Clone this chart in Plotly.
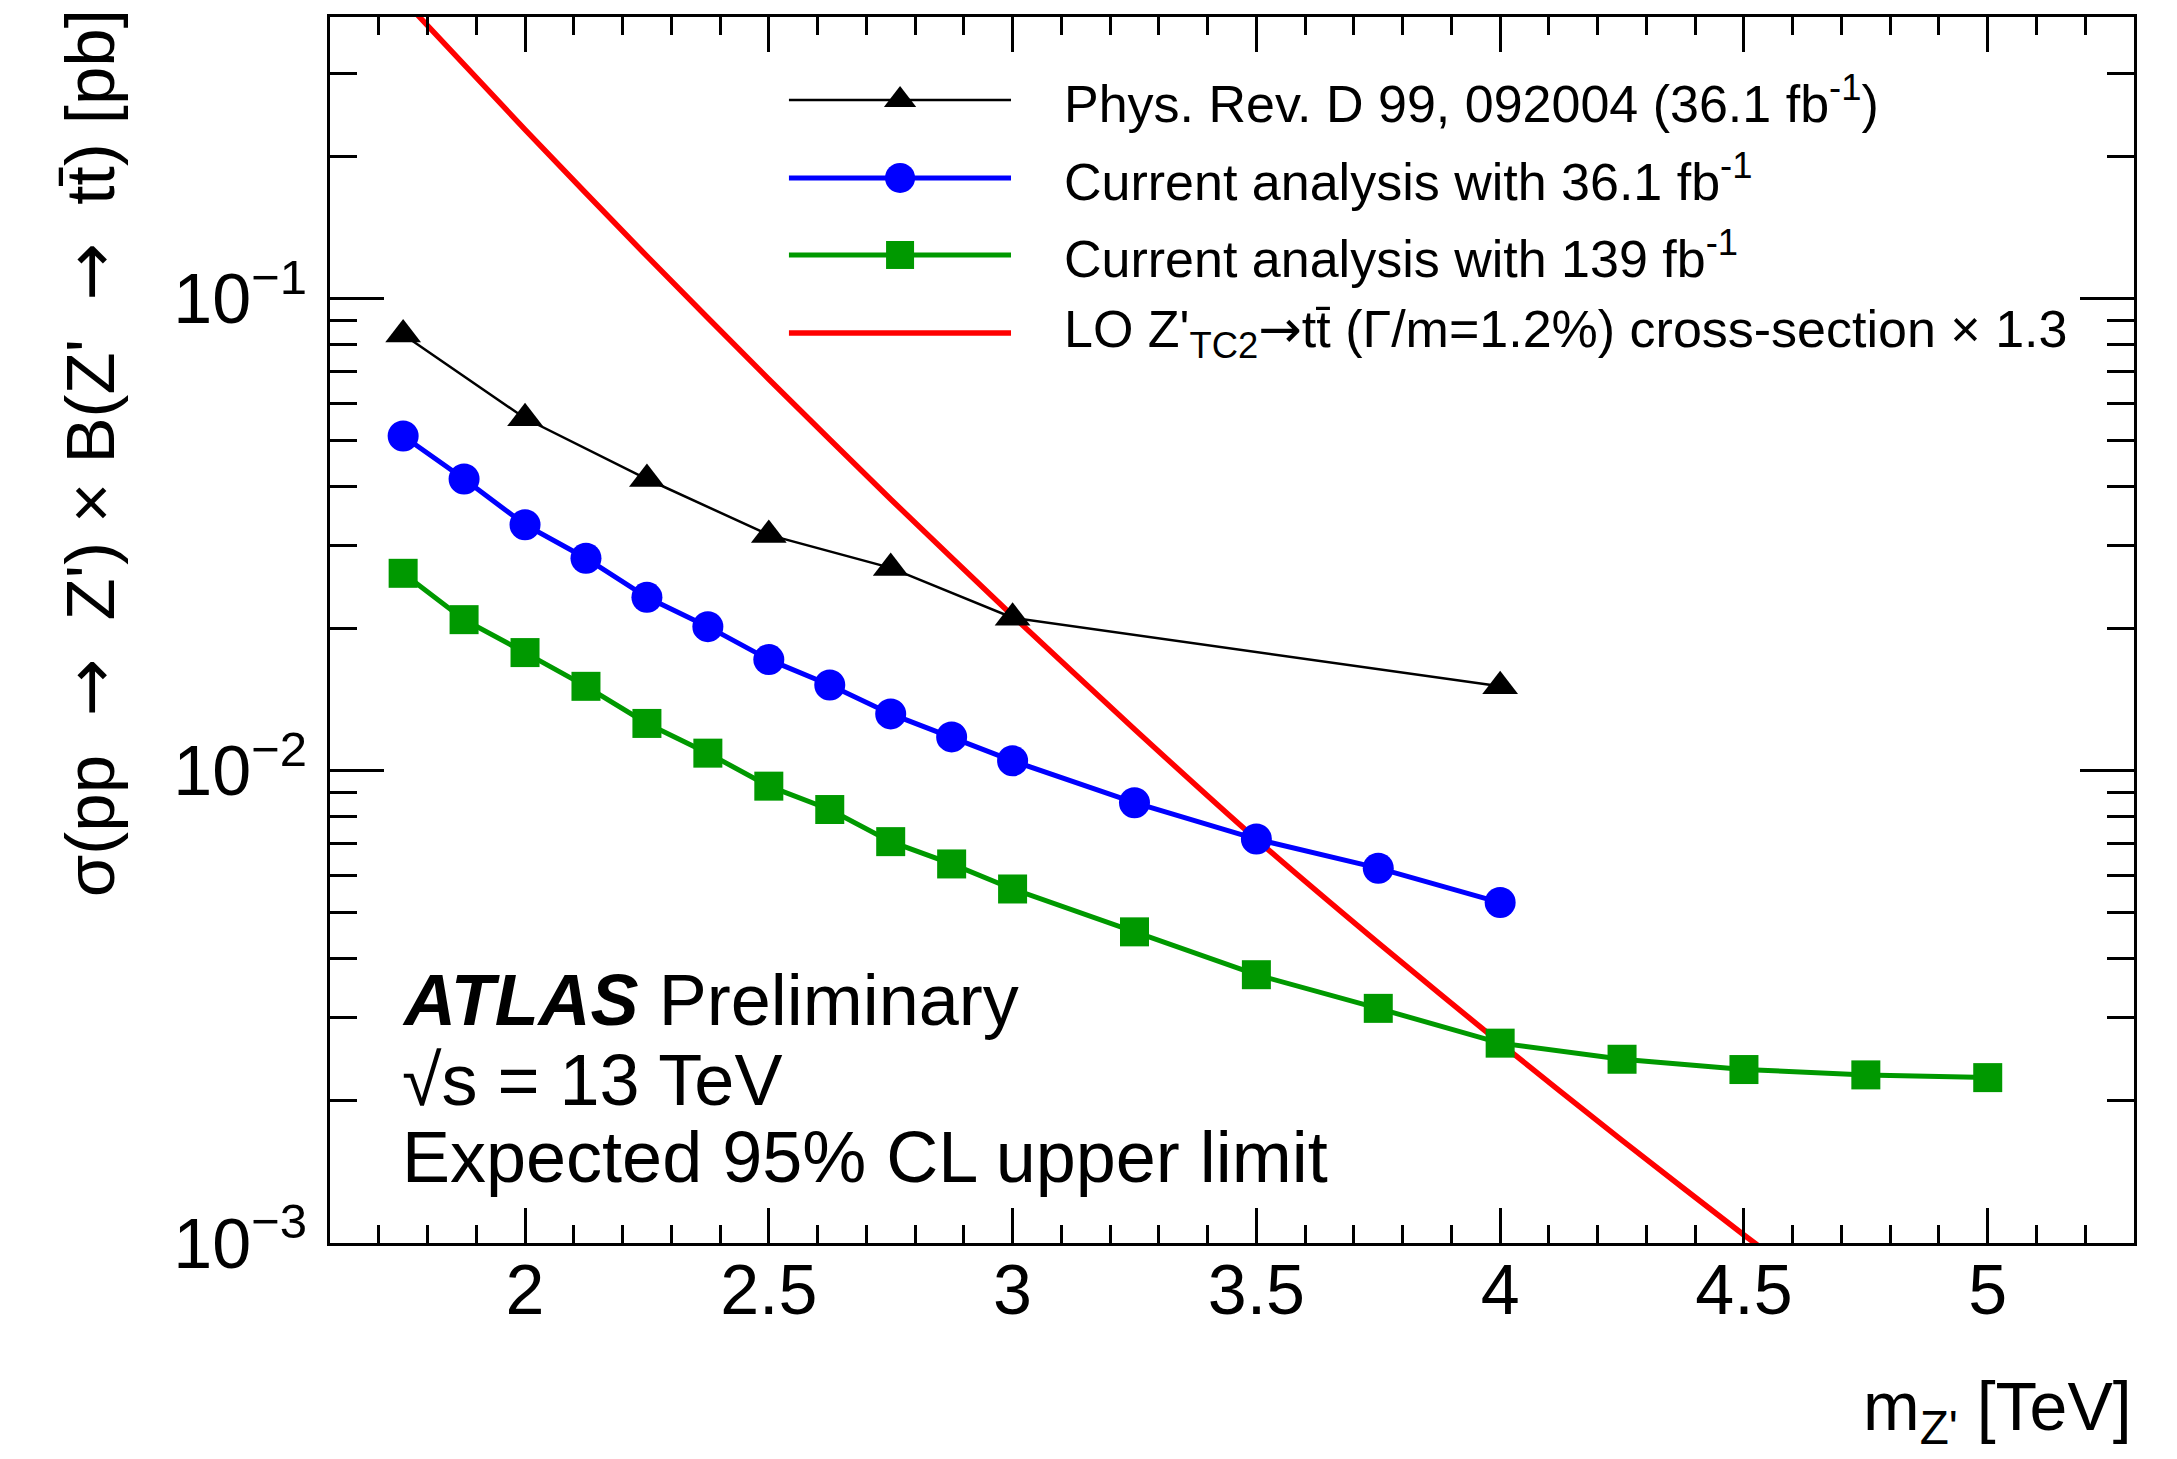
import plotly.graph_objects as go

# ---------------- data ----------------
mass_prev = [1.75, 2.0, 2.25, 2.5, 2.75, 3.0, 4.0]
limit_prev = [0.084, 0.0558, 0.0415, 0.0316, 0.0269, 0.0211, 0.0151]

mass_36 = [1.75, 1.875, 2.0, 2.125, 2.25, 2.375, 2.5, 2.625, 2.75, 2.875, 3.0,
           3.25, 3.5, 3.75, 4.0]
limit_36 = [0.0512, 0.0415, 0.0332, 0.0282, 0.0233, 0.0202, 0.0172, 0.0152,
            0.0132, 0.0118, 0.0105, 0.00856, 0.00717, 0.00622, 0.00526]

mass_139 = [1.75, 1.875, 2.0, 2.125, 2.25, 2.375, 2.5, 2.625, 2.75, 2.875, 3.0,
            3.25, 3.5, 3.75, 4.0, 4.25, 4.5, 4.75, 5.0]
limit_139 = [0.0262, 0.0209, 0.0178, 0.0151, 0.0126, 0.0109, 0.00928, 0.00828,
             0.00708, 0.00635, 0.00562, 0.00456, 0.0037, 0.00314, 0.00265,
             0.00245, 0.00233, 0.00227, 0.00224]

mass_theory = [1.75, 2.0, 2.25, 2.5, 2.75, 3.0, 3.25, 3.5, 3.75, 4.0, 4.25, 4.5, 4.75]
xsec_theory = [0.430, 0.228, 0.123, 0.0675, 0.0376, 0.0213, 0.01225, 0.00716,
               0.00432, 0.00265, 0.00165, 0.00104, 0.000665]

ARW = '<span style="font-family:DejaVu Sans">\u2192</span>'
SP = "\u00a0"

legend_labels = [
    "Phys. Rev. D 99, 092004 (36.1 fb<sup>-1</sup>)",
    "Current analysis with 36.1 fb<sup>-1</sup>",
    "Current analysis with 139 fb<sup>-1</sup>",
    "LO Z'<sub>TC2</sub>" + ARW + "tt\u0304 (Γ/m=1.2%) cross-section × 1.3",
]

y_title = ("σ(pp " + SP + ARW + SP + " Z') × B(Z' " + SP + ARW + SP
           + " tt\u0304) [pb]")
x_title = "m<sub>Z'</sub> [TeV]"

y_tickvals = [1e-3, 1e-2, 1e-1]
y_ticktext = ["10<sup>\u22123</sup>", "10<sup>\u22122</sup>", "10<sup>\u22121</sup>"]
x_tickvals = [2, 2.5, 3, 3.5, 4, 4.5, 5]
x_ticktext = ["2", "2.5", "3", "3.5", "4", "4.5", "5"]

# ---------------- styles ----------------
BLACK = "#000000"
BLUE = "#0000ff"
GREEN = "#009900"
RED = "#ff0000"
FONT = "Liberation Sans, Arial, Helvetica, sans-serif"

fig = go.Figure()

fig.add_trace(go.Scatter(x=mass_theory, y=xsec_theory, mode="lines",
                         line=dict(color=RED, width=5.5, shape="spline",
                                   smoothing=0.6),
                         showlegend=False))
fig.add_trace(go.Scatter(x=mass_prev, y=limit_prev, mode="lines+markers",
                         line=dict(color=BLACK, width=2.5),
                         marker=dict(symbol="triangle-up", size=31, color=BLACK),
                         showlegend=False))
fig.add_trace(go.Scatter(x=mass_36, y=limit_36, mode="lines+markers",
                         line=dict(color=BLUE, width=5),
                         marker=dict(symbol="circle", size=31, color=BLUE),
                         showlegend=False))
fig.add_trace(go.Scatter(x=mass_139, y=limit_139, mode="lines+markers",
                         line=dict(color=GREEN, width=5),
                         marker=dict(symbol="square", size=29, color=GREEN),
                         showlegend=False))

# ---------------- hand-drawn legend on an auxiliary [0,1] axis pair ----------------
leg_x0, leg_x1, leg_xm = 0.2544, 0.3775, 0.316
leg_rows = [0.9323, 0.8687, 0.8059, 0.7423]
leg_styles = [
    (BLACK, 2.5, "triangle-up", 28),
    (BLUE, 5, "circle", 30),
    (GREEN, 5, "square", 28),
    (RED, 5.5, None, 0),
]
for (col, lw, sym, ms), yr in zip(leg_styles, leg_rows):
    fig.add_trace(go.Scatter(x=[leg_x0, leg_x1], y=[yr, yr], mode="lines",
                             line=dict(color=col, width=lw), xaxis="x3", yaxis="y3",
                             showlegend=False, hoverinfo="skip"))
    if sym:
        fig.add_trace(go.Scatter(x=[leg_xm], y=[yr], mode="markers",
                                 marker=dict(symbol=sym, size=ms, color=col),
                                 xaxis="x3", yaxis="y3", showlegend=False,
                                 hoverinfo="skip"))

annotations = []
for lab, yr in zip(legend_labels, leg_rows):
    annotations.append(dict(text=lab, xref="paper", yref="paper", x=0.4058, y=yr,
                            xanchor="left", yanchor="middle", showarrow=False,
                            font=dict(family=FONT, size=52, color=BLACK)))

annotations += [
    dict(text="<b><i>ATLAS</i></b> Preliminary", xref="paper", yref="paper",
         x=0.0388, y=0.1982, xanchor="left", yanchor="middle", showarrow=False,
         font=dict(family=FONT, size=72, color=BLACK)),
    dict(text="√s = 13 TeV", xref="paper", yref="paper",
         x=0.0388, y=0.1330, xanchor="left", yanchor="middle", showarrow=False,
         font=dict(family=FONT, size=72, color=BLACK)),
    dict(text="Expected 95% CL upper limit", xref="paper", yref="paper",
         x=0.0388, y=0.0701, xanchor="left", yanchor="middle", showarrow=False,
         font=dict(family=FONT, size=72, color=BLACK)),
    dict(text=y_title, xref="paper", yref="paper",
         x=-0.133, y=1.008, xanchor="center", yanchor="top", textangle=-90,
         showarrow=False, font=dict(family=FONT, size=69, color=BLACK)),
    dict(text=x_title, xref="paper", yref="paper",
         x=1.0, y=-0.100, xanchor="right", yanchor="top", showarrow=False,
         font=dict(family=FONT, size=68, color=BLACK)),
]

x_minor = [round(1.6 + 0.1 * i, 1) for i in range(1, 37)]
y_minor = [m * 10 ** e for e in (-3, -2, -1) for m in range(2, 10)]

fig.update_layout(
    width=2177, height=1459, autosize=False,
    margin=dict(l=330, r=43, t=17, b=216, pad=0),
    paper_bgcolor="white", plot_bgcolor="white",
    showlegend=False,
    annotations=annotations,
    xaxis=dict(range=[1.6, 5.3], showgrid=False, zeroline=False,
               showline=True, linecolor=BLACK, linewidth=3, mirror="ticks",
               ticks="inside", ticklen=35, tickwidth=2.5, tickcolor=BLACK,
               tickmode="array", tickvals=x_tickvals, ticktext=x_ticktext,
               tickfont=dict(family=FONT, size=70, color=BLACK),
               ticklabelstandoff=-16,
               minor=dict(ticks="inside", ticklen=18, tickwidth=2.5,
                          tickcolor=BLACK, tickmode="array", tickvals=x_minor,
                          showgrid=False)),
    yaxis=dict(type="log", range=[-3, -0.4035], showgrid=False, zeroline=False,
               showline=True, linecolor=BLACK, linewidth=3, mirror="ticks",
               ticks="inside", ticklen=54, tickwidth=2.5, tickcolor=BLACK,
               tickmode="array", tickvals=y_tickvals, ticktext=y_ticktext,
               tickfont=dict(family=FONT, size=70, color=BLACK),
               ticklabelstandoff=6,
               minor=dict(ticks="inside", ticklen=27, tickwidth=2.5,
                          tickcolor=BLACK, tickmode="array", tickvals=y_minor,
                          showgrid=False)),
    xaxis3=dict(overlaying="x", range=[0, 1], visible=False, fixedrange=True),
    yaxis3=dict(overlaying="y", range=[0, 1], visible=False, fixedrange=True),
)

fig.write_html("out.html")
